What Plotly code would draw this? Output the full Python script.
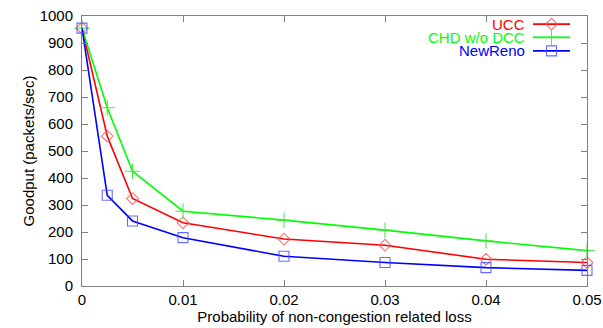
import plotly.graph_objects as go

x_vals = [0, 0.0025, 0.005, 0.01, 0.02, 0.03, 0.04, 0.05]
ucc = [955, 555, 324, 234, 174, 151, 99, 87]
chd = [955, 660, 425, 277, 244, 207, 167, 131]
newreno = [955, 336, 241, 179, 110, 87, 68, 58]

series_names = ["UCC", "CHD w/o DCC", "NewReno"]
series_data = [ucc, chd, newreno]
colors = ["#ff0000", "#00ff00", "#0000ff"]
marker_colors = ["rgba(255,80,80,0.8)", "rgba(60,230,60,0.9)", "rgba(70,70,255,0.8)"]
symbols = ["diamond-open", "cross-thin-open", "square-open"]
msizes = [9, 11, 10]

x_ticks = [0, 0.01, 0.02, 0.03, 0.04, 0.05]
x_ticklabels = ["0", "0.01", "0.02", "0.03", "0.04", "0.05"]
y_ticks = list(range(0, 1001, 100))

FONT = "Liberation Sans, Arial, sans-serif"

fig = go.Figure()
for name, ys, c, mc, s, ms in zip(series_names, series_data, colors, marker_colors, symbols, msizes):
    fig.add_trace(go.Scatter(
        x=x_vals, y=ys, mode="lines+markers", name=name,
        line=dict(color=c, width=1.6),
        marker=dict(symbol=s, size=ms, color=mc, line=dict(color=mc, width=1.1)),
        showlegend=False, cliponaxis=False,
    ))

# custom gnuplot-style legend (text then sample)
leg_y = [0.970, 0.921, 0.871]
lx0, lx1 = (533 - 82) / 505, (570 - 82) / 505
for name, c, mc, s, ms, ly in zip(series_names, colors, marker_colors, symbols, msizes, leg_y):
    fig.add_trace(go.Scatter(
        x=[lx0, (lx0 + lx1) / 2, lx1], y=[ly, ly, ly], xaxis="x2", yaxis="y2",
        mode="lines", line=dict(color=c, width=1.6), showlegend=False, hoverinfo="skip",
    ))
    fig.add_trace(go.Scatter(
        x=[(lx0 + lx1) / 2], y=[ly], xaxis="x2", yaxis="y2", mode="markers",
        marker=dict(symbol=s, size=ms, color=mc, line=dict(color=mc, width=1.1)),
        showlegend=False, hoverinfo="skip",
    ))
    fig.add_annotation(
        text=name, xref="paper", yref="paper", x=(527 - 82) / 505, y=ly,
        xanchor="right", yanchor="middle", showarrow=False,
        font=dict(color=c, size=15, family=FONT),
    )

axis_common = dict(
    showgrid=False, zeroline=False, showline=True, linecolor="#808080", linewidth=1,
    mirror="allticks", ticks="inside", ticklen=6, tickcolor="#808080", automargin=False,
    tickfont=dict(size=15, color="#000000", family=FONT),
)

fig.update_layout(
    width=603, height=328,
    margin=dict(l=82, r=16, t=16, b=42),
    paper_bgcolor="white", plot_bgcolor="white",
    xaxis=dict(range=[0, 0.05], tickvals=x_ticks, ticktext=x_ticklabels,
               title=dict(text="Probability of non-congestion related loss", standoff=2,
                          font=dict(size=15, color="#000000", family=FONT)),
               **axis_common),
    yaxis=dict(range=[0, 1000], tickvals=y_ticks, ticklabelstandoff=5,
               title=dict(text="Goodput (packets/sec)", standoff=1,
                          font=dict(size=15, color="#000000", family=FONT)),
               **axis_common),
    xaxis2=dict(overlaying="x", range=[0, 1], visible=False),
    yaxis2=dict(overlaying="y", range=[0, 1], visible=False),
)

# remove the default 8px body margin so the figure starts at the window's corner
fig.write_html("out.html", config={"displayModeBar": False},
               post_script="document.body.style.margin='0';")
